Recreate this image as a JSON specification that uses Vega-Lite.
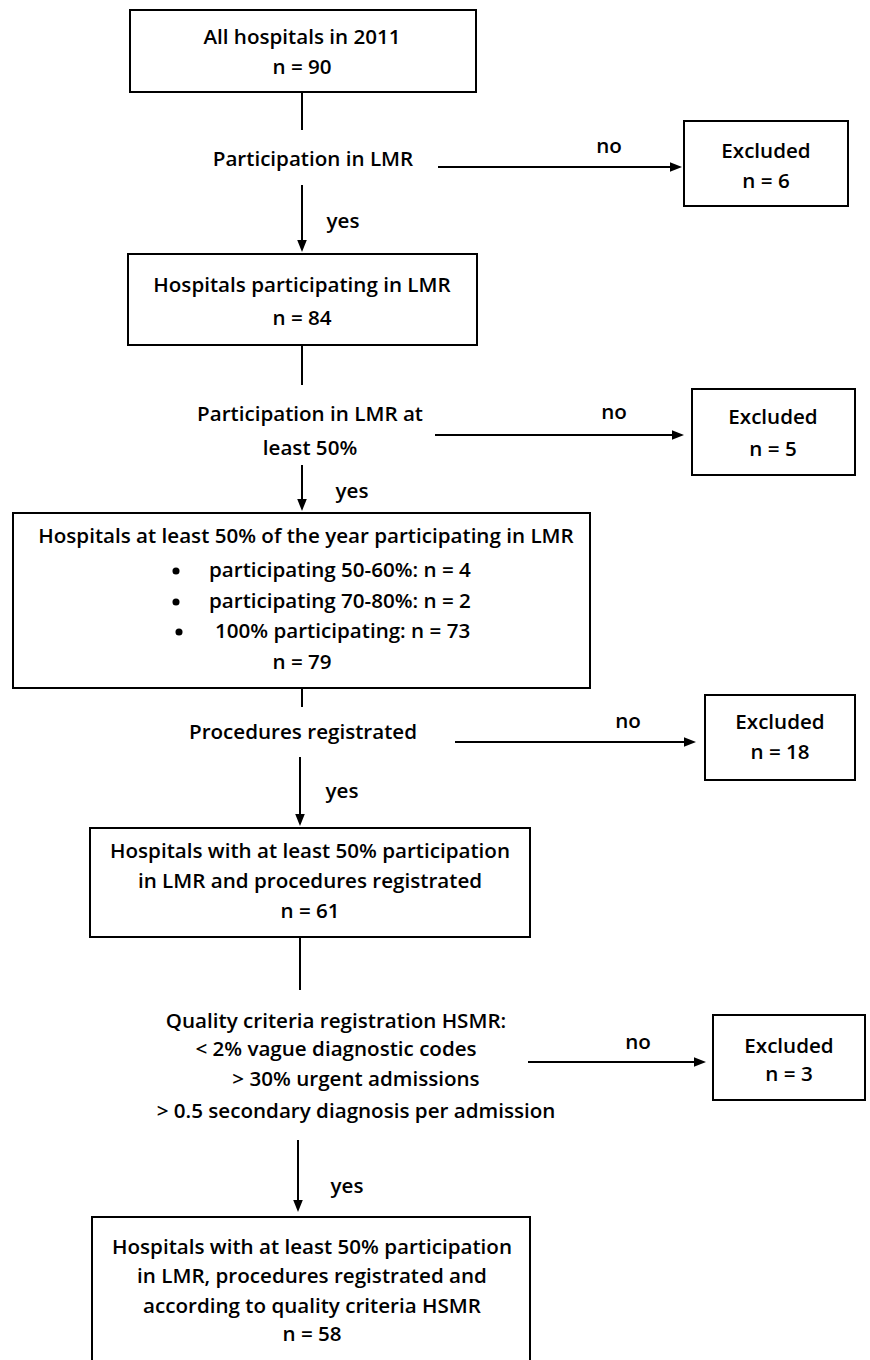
{
  "$schema": "https://vega.github.io/schema/vega-lite/v6.json",
  "width": 870,
  "height": 1360,
  "autosize": {"type": "fit", "contains": "padding"},
  "padding": 0,
  "background": "white",
  "config": {"view": {"stroke": null}},
  "datasets": {
    "boxes": [
      {"id": "B1", "x": 130, "x2": 476, "y": 10, "y2": 92},
      {"id": "E1", "x": 684, "x2": 848, "y": 121, "y2": 206},
      {"id": "B2", "x": 128, "x2": 477, "y": 254, "y2": 345},
      {"id": "E2", "x": 692, "x2": 855, "y": 389, "y2": 475},
      {"id": "B3", "x": 13, "x2": 590, "y": 513, "y2": 688},
      {"id": "E3", "x": 705, "x2": 855, "y": 695, "y2": 780},
      {"id": "B4", "x": 90, "x2": 530, "y": 828, "y2": 937},
      {"id": "E4", "x": 713, "x2": 865, "y": 1015, "y2": 1100},
      {"id": "B5", "x": 92, "x2": 530, "y": 1217, "y2": 1366}
    ],
    "lines": [
      {"x": 302, "y": 92, "x2": 302, "y2": 130},
      {"x": 438, "y": 167, "x2": 674, "y2": 167},
      {"x": 302, "y": 185, "x2": 302, "y2": 244},
      {"x": 302, "y": 345, "x2": 302, "y2": 385},
      {"x": 435, "y": 435, "x2": 676, "y2": 435},
      {"x": 302, "y": 465, "x2": 302, "y2": 503},
      {"x": 302, "y": 688, "x2": 302, "y2": 707},
      {"x": 455, "y": 742, "x2": 688, "y2": 742},
      {"x": 300, "y": 757, "x2": 300, "y2": 818},
      {"x": 300, "y": 937, "x2": 300, "y2": 990},
      {"x": 528, "y": 1062, "x2": 698, "y2": 1062},
      {"x": 298, "y": 1140, "x2": 298, "y2": 1204}
    ],
    "heads": [
      {"x": 682, "y": 167, "dir": "right"},
      {"x": 302, "y": 252, "dir": "down"},
      {"x": 684, "y": 435, "dir": "right"},
      {"x": 302, "y": 511, "dir": "down"},
      {"x": 696, "y": 742, "dir": "right"},
      {"x": 300, "y": 826, "dir": "down"},
      {"x": 706, "y": 1062, "dir": "right"},
      {"x": 298, "y": 1212, "dir": "down"}
    ],
    "bullets": [
      {"x": 176, "y": 571},
      {"x": 176, "y": 602},
      {"x": 179, "y": 632}
    ],
    "labels": [
      {"x": 302, "y": 38, "label": "All hospitals in 2011"},
      {"x": 302, "y": 68, "label": "n = 90"},
      {"x": 313, "y": 160, "label": "Participation in LMR"},
      {"x": 609, "y": 147, "label": "no"},
      {"x": 766, "y": 152, "label": "Excluded"},
      {"x": 766, "y": 182, "label": "n = 6"},
      {"x": 343, "y": 222, "label": "yes"},
      {"x": 302, "y": 286, "label": "Hospitals participating in LMR"},
      {"x": 302, "y": 319, "label": "n = 84"},
      {"x": 310, "y": 415, "label": "Participation in LMR at"},
      {"x": 310, "y": 449, "label": "least 50%"},
      {"x": 614, "y": 413, "label": "no"},
      {"x": 773, "y": 418, "label": "Excluded"},
      {"x": 773, "y": 450, "label": "n = 5"},
      {"x": 352, "y": 492, "label": "yes"},
      {"x": 306, "y": 537, "label": "Hospitals at least 50% of the year participating in LMR"},
      {"x": 302, "y": 663, "label": "n = 79"},
      {"x": 303, "y": 733, "label": "Procedures registrated"},
      {"x": 628, "y": 722, "label": "no"},
      {"x": 780, "y": 723, "label": "Excluded"},
      {"x": 780, "y": 753, "label": "n = 18"},
      {"x": 342, "y": 792, "label": "yes"},
      {"x": 310, "y": 852, "label": "Hospitals with at least 50% participation"},
      {"x": 310, "y": 882, "label": "in LMR and procedures registrated"},
      {"x": 310, "y": 912, "label": "n = 61"},
      {"x": 336, "y": 1022, "label": "Quality criteria registration HSMR:"},
      {"x": 336, "y": 1050, "label": "< 2% vague diagnostic codes"},
      {"x": 356, "y": 1080, "label": "> 30% urgent admissions"},
      {"x": 356, "y": 1112, "label": "> 0.5 secondary diagnosis per admission"},
      {"x": 638, "y": 1043, "label": "no"},
      {"x": 789, "y": 1047, "label": "Excluded"},
      {"x": 789, "y": 1075, "label": "n = 3"},
      {"x": 347, "y": 1187, "label": "yes"},
      {"x": 312, "y": 1248, "label": "Hospitals with at least 50% participation"},
      {"x": 312, "y": 1277, "label": "in LMR, procedures registrated and"},
      {"x": 312, "y": 1307, "label": "according to quality criteria HSMR"},
      {"x": 312, "y": 1335, "label": "n = 58"}
    ],
    "leftlabels": [
      {"x": 209, "y": 571, "label": "participating 50-60%: n = 4"},
      {"x": 209, "y": 602, "label": "participating 70-80%: n = 2"},
      {"x": 215, "y": 632, "label": "100% participating: n = 73"}
    ]
  },
  "layer": [
    {
      "data": {"name": "boxes"},
      "mark": {"type": "rect", "fill": "white", "stroke": "black", "strokeWidth": 2, "clip": true},
      "encoding": {
        "x": {"field": "x", "type": "quantitative", "scale": {"domain": [0, 870]}, "axis": null},
        "x2": {"field": "x2"},
        "y": {"field": "y", "type": "quantitative", "scale": {"domain": [0, 1360], "reverse": true}, "axis": null},
        "y2": {"field": "y2"}
      }
    },
    {
      "data": {"name": "lines"},
      "mark": {"type": "rule", "stroke": "black", "strokeWidth": 2},
      "encoding": {
        "x": {"field": "x", "type": "quantitative", "scale": {"domain": [0, 870]}, "axis": null},
        "x2": {"field": "x2"},
        "y": {"field": "y", "type": "quantitative", "scale": {"domain": [0, 1360], "reverse": true}, "axis": null},
        "y2": {"field": "y2"}
      }
    },
    {
      "data": {"name": "heads"},
      "mark": {"type": "point", "filled": true, "fill": "black", "stroke": null, "size": 144, "opacity": 1},
      "encoding": {
        "x": {"field": "x", "type": "quantitative", "scale": {"domain": [0, 870]}, "axis": null},
        "y": {"field": "y", "type": "quantitative", "scale": {"domain": [0, 1360], "reverse": true}, "axis": null},
        "shape": {"field": "dir", "type": "nominal", "legend": null,
          "scale": {"domain": ["right", "down"], "range": ["M0,0L-2,-0.8L-2,0.8Z", "M0,0L-0.8,-2L0.8,-2Z"]}}
      }
    },
    {
      "data": {"name": "bullets"},
      "mark": {"type": "point", "shape": "circle", "filled": true, "fill": "black", "stroke": null, "size": 50, "opacity": 1},
      "encoding": {
        "x": {"field": "x", "type": "quantitative", "scale": {"domain": [0, 870]}, "axis": null},
        "y": {"field": "y", "type": "quantitative", "scale": {"domain": [0, 1360], "reverse": true}, "axis": null}
      }
    },
    {
      "data": {"name": "labels"},
      "mark": {"type": "text", "font": "Open Sans", "fontSize": 20.6, "fontWeight": 600, "color": "black", "align": "center", "baseline": "middle"},
      "encoding": {
        "x": {"field": "x", "type": "quantitative", "scale": {"domain": [0, 870]}, "axis": null},
        "y": {"field": "y", "type": "quantitative", "scale": {"domain": [0, 1360], "reverse": true}, "axis": null},
        "text": {"field": "label", "type": "nominal"}
      }
    },
    {
      "data": {"name": "leftlabels"},
      "mark": {"type": "text", "font": "Open Sans", "fontSize": 20.6, "fontWeight": 600, "color": "black", "align": "left", "baseline": "middle"},
      "encoding": {
        "x": {"field": "x", "type": "quantitative", "scale": {"domain": [0, 870]}, "axis": null},
        "y": {"field": "y", "type": "quantitative", "scale": {"domain": [0, 1360], "reverse": true}, "axis": null},
        "text": {"field": "label", "type": "nominal"}
      }
    }
  ]
}
